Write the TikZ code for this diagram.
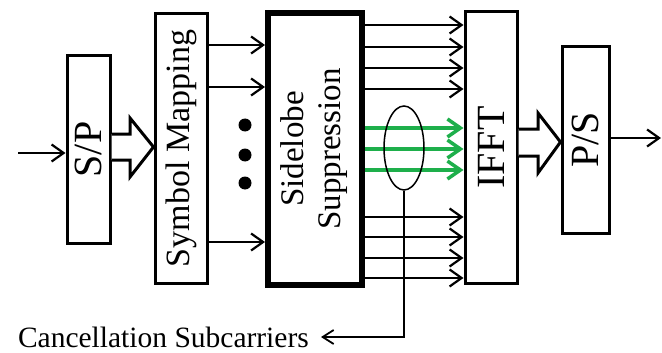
\documentclass[tikz,border=0pt]{standalone}
\usepackage{fontspec}
\setmainfont{Liberation Serif}
\usepackage{graphicx}
\usetikzlibrary{arrows.meta,shapes.geometric,calc}
\definecolor{cgreen}{RGB}{30,175,75}
\begin{document}
\begin{tikzpicture}[x=1pt,y=-1pt,
  blk/.style={draw, line width=3pt, inner sep=0pt},
  arr/.style={line width=2.2pt, -{Straight Barb[length=12pt,width=17pt,line width=2.2pt]}},
  garr/.style={cgreen, line width=3.5pt, -{Straight Barb[length=13pt,width=18pt,line width=3.5pt]}},
  hollow/.style={draw, line width=3pt, line join=miter, fill=white},
  big/.style={font=\fontsize{40}{44}\selectfont},
  mid/.style={font=\fontsize{34}{38}\selectfont}]
\useasboundingbox (0,0) rectangle (662,353);

\node[blk, minimum width=43pt, minimum height=187pt, big] (sp) at (88.5,149.5) {\rotatebox{90}{S/P}};
\node[blk, minimum width=52pt, minimum height=269pt, mid] (sm) at (181,148.5) {\rotatebox{90}{Symbol Mapping}};
\node[blk, line width=6pt, minimum width=94pt, minimum height=272pt, font=\fontsize{33}{37}\selectfont] (ss) at (315,149) {\rotatebox{90}{\begin{tabular}{@{}c@{}}Sidelobe\\Suppression\end{tabular}}};
\node[blk, minimum width=52pt, minimum height=271pt, big] (ifft) at (491,147.5) {\rotatebox{90}{IFFT}};
\node[blk, minimum width=47pt, minimum height=186pt, big] (ps) at (585.5,140) {\rotatebox{90}{P/S}};

% input / output
\coordinate (in) at (18,153);
\coordinate (out) at (661,138);
\draw[arr] (in) -- (sp.west |- in);
\draw[arr] (ps.east |- out) -- (out);

% hollow arrows
\draw[hollow] (sp.east |- 0,134) -- (130,134) -- (130,118) -- (sm.west |- 0,147) -- (130,177) -- (130,160) -- (sp.east |- 0,160);
\draw[hollow] (ifft.east |- 0,129) -- (538,129) -- (538,113) -- (ps.west |- 0,142) -- (538,173) -- (538,156) -- (ifft.east |- 0,156);

% symbol mapping -> sidelobe
\foreach \y in {45,87,242} \draw[arr] (sm.east |- 0,\y) -- (ss.west |- 0,\y);
\foreach \y in {125,155,183} \fill (245,\y) circle (6.5pt);

% sidelobe -> IFFT
\foreach \y in {25,47,68,89,217,237,258,278} \draw[arr] (ss.east |- 0,\y) -- (ifft.west |- 0,\y);
\foreach \y in {128,149,170} \draw[garr] (ss.east |- 0,\y) -- (ifft.west |- 0,\y);

% ellipse and cancellation output
\node[draw, ellipse, line width=1.5pt, minimum width=40pt, minimum height=84pt, inner sep=0pt] (el) at (404,148) {};
\node[anchor=east, inner xsep=12pt, inner ysep=0pt, font=\fontsize{29.5}{33}\selectfont] (cs) at (321,337) {Cancellation Subcarriers};
\draw[line width=1.5pt, -{Straight Barb[length=11pt,width=14pt,line width=1.8pt]}] (el.south) |- (cs.east);
\end{tikzpicture}
\end{document}
